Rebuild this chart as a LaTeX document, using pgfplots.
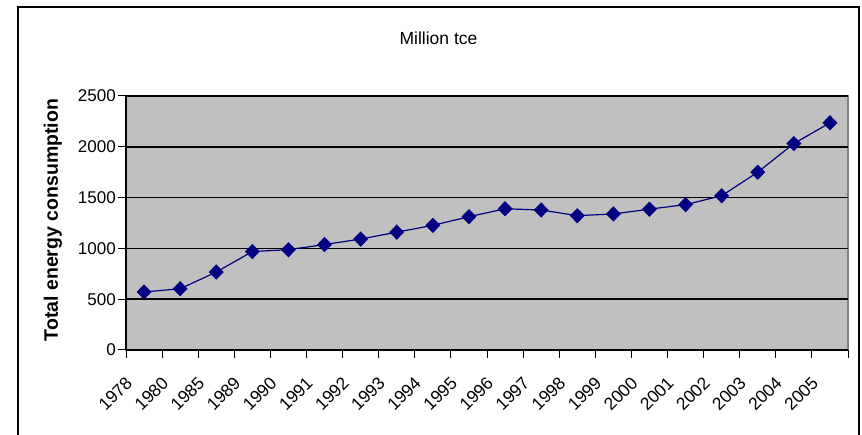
\documentclass[border=0pt]{standalone}
\usepackage{pgfplots}
\pgfplotsset{compat=1.18}
\usepackage{fontspec}
\setmainfont{Liberation Sans}
\definecolor{plotgray}{HTML}{C0C0C0}
\definecolor{navyline}{HTML}{000080}
\begin{document}
\begin{tikzpicture}[x=1pt,y=1pt]
\useasboundingbox (0,0) rectangle (862,435);
\draw[black, line width=1.6pt] (18,-2) -- (18,428) -- (859,428) -- (859,-2);
\node[font=\fontsize{17.5}{20}\selectfont] at (438.5,397) {Million tce};
\node[font=\fontsize{19.5}{22}\selectfont\bfseries, rotate=90] at (53,215) {Total energy consumption};
\begin{axis}[
  at={(126pt,85pt)}, anchor=south west,
  scale only axis, width=722pt, height=254pt,
  xmin=-0.5, xmax=19.5, ymin=0, ymax=2500,
  ytick={0,500,...,2500},
  xtick={0,...,19},
  xticklabels={1978,1980,1985,1989,1990,1991,1992,1993,1994,1995,1996,1997,1998,1999,2000,2001,2002,2003,2004,2005},
  minor xtick={-0.5,0.5,...,19.5},
  every major x tick/.append style={draw=none},
  major tick length=8pt, minor tick length=8pt,
  tick align=outside,
  tick style={black, line width=1pt},
  axis x line*=bottom, axis y line*=left,
  axis line style={black, line width=1.6pt, -},
  axis background/.style={fill=plotgray, draw=gray, line width=1.2pt},
  ymajorgrids, major grid style={black, line width=1.5pt},
  /pgf/number format/assume math mode=true,
  /pgf/number format/1000 sep={},
  scaled y ticks=false,
  yticklabel style={font=\fontsize{17}{19}\selectfont, inner sep=2pt},
  xticklabel style={font=\fontsize{17.5}{19}\selectfont, rotate=45, anchor=east, inner sep=0pt, xshift=-26pt, yshift=-5pt},
  clip=false,
]
\addplot[navyline, line width=1.2pt, mark=diamond*, mark size=6.8pt, mark options={xscale=1.3, fill=navyline, draw=navyline}]
coordinates {
(0,571) (1,603) (2,767) (3,969) (4,987) (5,1038) (6,1092) (7,1160) (8,1227) (9,1312)
(10,1390) (11,1378) (12,1322) (13,1339) (14,1386) (15,1431) (16,1518) (17,1750) (18,2032) (19,2236)
};
\end{axis}
\end{tikzpicture}
\end{document}
